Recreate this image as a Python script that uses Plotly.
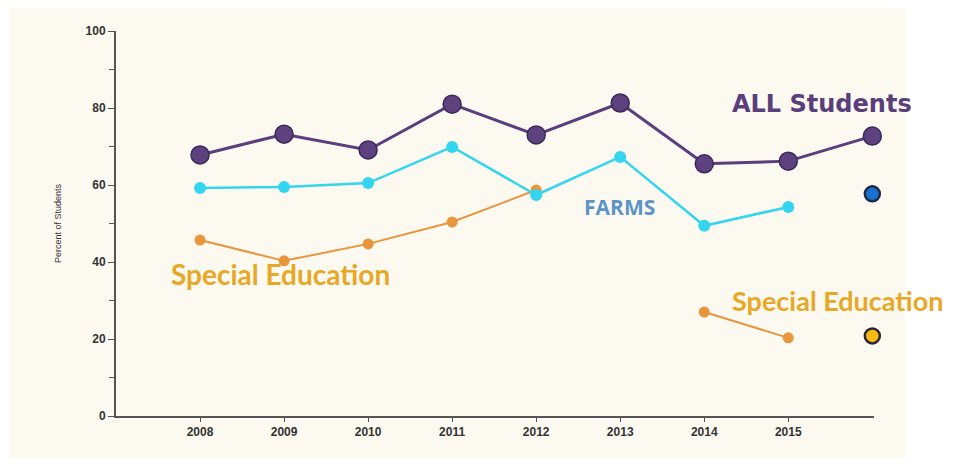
import plotly.graph_objects as go

years = [2008, 2009, 2010, 2011, 2012, 2013, 2014, 2015, 2016]
all_students = [67.8, 73.2, 69.1, 81.0, 73.0, 81.3, 65.5, 66.2, 72.7]
farms_years = [2008, 2009, 2010, 2011, 2012, 2013, 2014, 2015]
farms = [59.2, 59.5, 60.5, 69.9, 57.4, 67.3, 49.4, 54.3]
sped_years = [2008, 2009, 2010, 2011, 2012, 2013, 2014, 2015]
sped = [45.7, 40.3, 44.7, 50.4, 58.7, None, 27.0, 20.3]
farms_2016 = [57.7]
sped_2016 = [20.8]
x_tick_labels = ["2008", "2009", "2010", "2011", "2012", "2013", "2014", "2015"]
y_ticks = [0, 20, 40, 60, 80, 100]

fig = go.Figure()

fig.add_trace(go.Scatter(
    x=sped_years, y=sped, mode="lines+markers", connectgaps=False, cliponaxis=False,
    line=dict(color="#e8953c", width=2),
    marker=dict(color="#e8953c", size=11), showlegend=False))
fig.add_trace(go.Scatter(
    x=farms_years, y=farms, mode="lines+markers", cliponaxis=False,
    line=dict(color="#33d6ee", width=2.5),
    marker=dict(color="#33d6ee", size=12), showlegend=False))
fig.add_trace(go.Scatter(
    x=years, y=all_students, mode="lines+markers", cliponaxis=False,
    line=dict(color="#5a3f7c", width=3),
    marker=dict(color="#5e4280", size=18, line=dict(color="#3b2858", width=1.5)),
    showlegend=False))
fig.add_trace(go.Scatter(
    x=[2016], y=farms_2016, mode="markers", cliponaxis=False,
    marker=dict(color="#1a72d0", size=15, line=dict(color="#1c2a4a", width=2.5)),
    showlegend=False))
fig.add_trace(go.Scatter(
    x=[2016], y=sped_2016, mode="markers", cliponaxis=False,
    marker=dict(color="#f6bb10", size=15, line=dict(color="#2e2438", width=2.5)),
    showlegend=False))

# plot area in page pixels: x 116..874, y 31..416
PX0, PX1, PY0, PY1 = 116, 874, 31, 416
W, H = PX1 - PX0, PY1 - PY0


def px(x):
    return (x - PX0) / W


def py(y):
    return (PY1 - y) / H


# cream background panel
fig.add_shape(type="rect", xref="paper", yref="paper",
              x0=px(10), x1=px(905), y0=py(462), y1=py(5),
              fillcolor="#fcf9f1", line=dict(width=0), layer="below")

labels = [
    ("<b>ALL Students</b>", 822, 104, "DejaVu Sans", 24, "#5a3f7c"),
    ("<b>FARMS</b>", 619, 207, "Open Sans", 21, "#5b95c8"),
    ("<b>Special Education</b>", 280, 274, "Lato", 28, "#e8a826"),
    ("<b>Special Education</b>", 837, 300, "Lato", 27, "#e8a826"),
]
for text, lx, ly, fam, size, col in labels:
    fig.add_annotation(x=px(lx), y=py(ly), xref="paper", yref="paper",
                       xanchor="center", yanchor="middle",
                       text=text, showarrow=False,
                       font=dict(family=fam, size=size, color=col))

# page body has an 8px margin; keep the figure inside the window
OFF = 8
FW, FH = 955 - 2 * OFF, 466 - 2 * OFF
fig.update_layout(
    width=FW, height=FH,
    margin=dict(l=PX0 - OFF, r=FW + OFF - PX1, t=PY0 - OFF, b=FH + OFF - PY1),
    paper_bgcolor="white",
    plot_bgcolor="rgba(0,0,0,0)",
    xaxis=dict(range=[2007, 2016.02], tickvals=farms_years, ticktext=x_tick_labels,
               showgrid=False, zeroline=False, showline=True, linecolor="#555555",
               linewidth=2, ticks="outside", ticklen=4, tickcolor="#555555",
               tickfont=dict(family="Liberation Sans", size=12, color="#333333", weight="bold")),
    yaxis=dict(range=[0, 100], tickvals=y_ticks, showgrid=False, zeroline=False,
               showline=True, linecolor="#555555", linewidth=2,
               ticks="outside", ticklen=6, tickcolor="#555555",
               minor=dict(dtick=10, ticks="outside", ticklen=5, tickcolor="#555555"),
               tickfont=dict(family="Liberation Sans", size=12, color="#333333", weight="bold"),
               title=dict(text="Percent of Students", standoff=22,
                          font=dict(family="Liberation Sans", size=9, color="#333333"))),
)

fig.write_html("out.html")
